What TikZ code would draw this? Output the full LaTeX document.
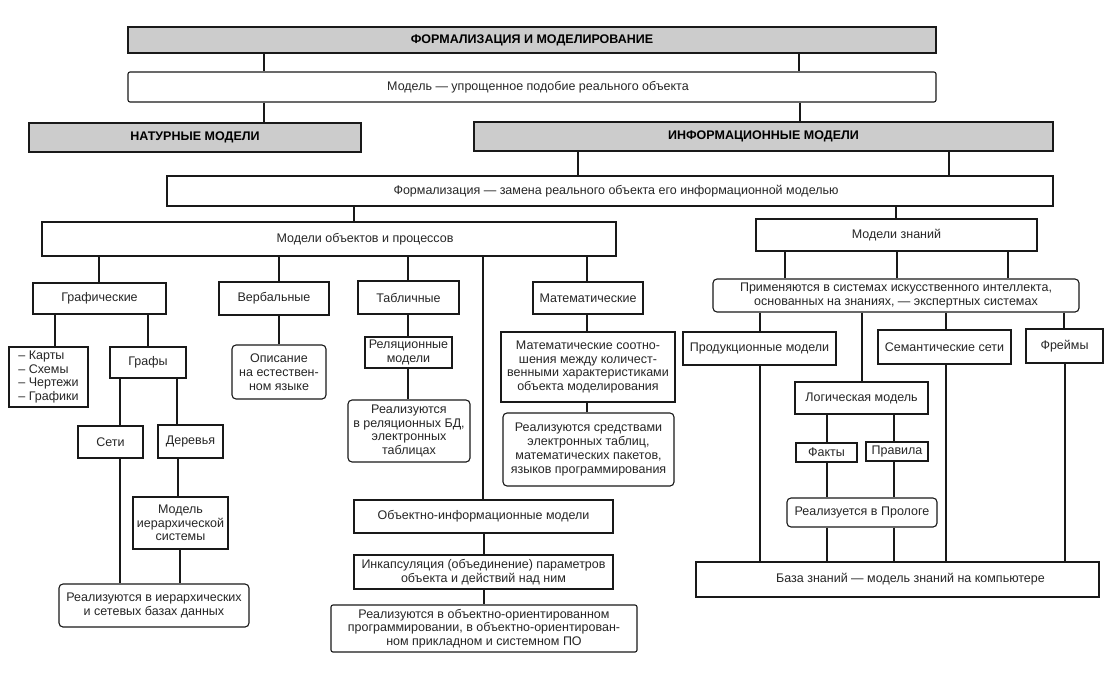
\documentclass[tikz,border=0pt]{standalone}
\usepackage{fontspec}
\setmainfont{Liberation Sans}
\newcommand\mkbox[7][]{%
  \pgfmathsetmacro\mkbw{#4-#3}\pgfmathsetmacro\mkbh{#6-#5}%
  \node[box,#1,minimum width=\mkbw pt,minimum height=\mkbh pt] (#2) at ({(#3+#4)/2},{(#5+#6)/2}) {#7};}
\newcommand\vlink[3]{\draw[conn] (#1.south -| x#3) -- (#2.north -| x#3);}
\begin{document}
\begin{tikzpicture}[x=1pt,y=-1pt,
  box/.style={draw=black!90, line width=1.1pt, fill=white, inner sep=1pt, align=center, text=black!85, font=\fontsize{12.5}{13.7}\selectfont},
  gbox/.style={fill=black!20, font=\bfseries\fontsize{12.5}{13.7}\selectfont, text=black},
  rbox/.style={rounded corners=4pt},
  sbox/.style={rounded corners=2pt},
  conn/.style={draw=black!90, line width=1.1pt}]
\fill[white] (0,0) rectangle (1119,683);
\useasboundingbox (0,0) rectangle (1119,683);
\foreach \xx in {55,99,120,148,177,178,180,264,279,354,408,483,484,578,587,760,785,799,800,827,862,894,896,897,946,949,1008,1064,1065}
  \coordinate (x\xx) at (\xx,0);
% top levels
\mkbox[gbox]{top}{128}{936}{27}{53}{ФОРМАЛИЗАЦИЯ И МОДЕЛИРОВАНИЕ}
\mkbox[sbox]{model}{128}{936}{72}{102}{\hspace*{12pt}Модель — упрощенное подобие реального объекта}
\mkbox[gbox]{natur}{29}{361}{123}{152}{НАТУРНЫЕ МОДЕЛИ}
\mkbox[gbox]{inform}{474}{1053}{122}{151}{ИНФОРМАЦИОННЫЕ МОДЕЛИ}
\mkbox{formal}{167}{1053}{176}{206}{\hspace*{12pt}Формализация — замена реального объекта его информационной моделью}
\mkbox{objproc}{42}{616}{222}{256}{\hspace*{72pt}Модели объектов и процессов}
\mkbox{knowl}{756}{1037}{219}{251}{Модели знаний}
% left branch
\mkbox{graph}{33}{166}{283}{314}{Графические}
\mkbox{verb}{219}{329}{282}{315}{Вербальные}
\mkbox{table}{358}{459}{281}{314}{Табличные}
\mkbox{math}{533}{643}{282}{314}{Математические}
\mkbox[align=left]{list}{9}{88}{347}{407}{– Карты\\– Схемы\\– Чертежи\\– Графики}
\mkbox{grafy}{110}{186}{347}{378}{Графы}
\mkbox{seti}{78}{143}{426}{458}{Сети}
\mkbox{derev}{158}{223}{425}{458}{Деревья}
\mkbox{hier}{133}{228}{497}{549}{Модель\\иерархической\\системы}
\mkbox[rbox]{realh}{59}{249}{584}{627}{Реализуются в иерархических\\и сетевых базах данных}
\mkbox[rbox]{opis}{232}{326}{345}{399}{Описание\\на естествен-\\ном языке}
\mkbox{relm}{365}{452}{337}{368}{Реляционные\\модели}
\mkbox[rbox]{realrel}{348}{470}{400}{462}{Реализуются\\в реляционных БД,\\электронных\\таблицах}
\mkbox{mathrel}{501}{675}{332}{402}{Математические соотно-\\шения между количест-\\венными характеристиками\\объекта моделирования}
\mkbox[rbox]{realmath}{503}{674}{413}{486}{Реализуются средствами\\электронных таблиц,\\математических пакетов,\\языков программирования}
\mkbox{oim}{354}{613}{500}{533}{Объектно-информационные модели}
\mkbox{incap}{354}{613}{555}{589}{Инкапсуляция (объединение) параметров\\объекта и действий над ним}
\mkbox[sbox]{realoop}{331}{637}{605}{652}{Реализуются в объектно-ориентированном\\программировании, в объектно-ориентирован-\\ном прикладном и системном ПО}
% right branch
\mkbox[rbox]{prim}{713}{1079}{279}{312}{Применяются в системах искусственного интеллекта,\\основанных на знаниях, — экспертных системах}
\mkbox{prod}{683}{836}{332}{365}{Продукционные модели}
\mkbox{sem}{878}{1011}{330}{364}{Семантические сети}
\mkbox{frames}{1026}{1103}{329}{363}{Фреймы}
\mkbox{logic}{795}{928}{382}{414}{Логическая модель}
\mkbox{facts}{796}{857}{443}{462}{Факты}
\mkbox{rules}{866}{928}{442}{461}{Правила}
\mkbox[rbox]{prolog}{787}{937}{498}{527}{Реализуется в Прологе}
\mkbox{base}{696}{1099}{562}{597}{\hspace*{26pt}База знаний — модель знаний на компьютере}
% connectors
\vlink{top}{model}{264}
\vlink{top}{model}{799}
\vlink{model}{natur}{264}
\vlink{model}{inform}{800}
\vlink{inform}{formal}{578}
\vlink{inform}{formal}{949}
\vlink{formal}{objproc}{354}
\vlink{formal}{knowl}{896}
\vlink{objproc}{graph}{99}
\vlink{objproc}{verb}{279}
\vlink{objproc}{table}{408}
\vlink{objproc}{oim}{483}
\vlink{objproc}{math}{587}
\vlink{graph}{list}{55}
\vlink{graph}{grafy}{148}
\vlink{grafy}{seti}{120}
\vlink{grafy}{derev}{177}
\vlink{seti}{realh}{120}
\vlink{derev}{hier}{178}
\vlink{hier}{realh}{180}
\vlink{verb}{opis}{279}
\vlink{table}{relm}{408}
\vlink{relm}{realrel}{408}
\vlink{math}{mathrel}{587}
\vlink{mathrel}{realmath}{587}
\vlink{oim}{incap}{484}
\vlink{incap}{realoop}{484}
\vlink{knowl}{prim}{785}
\vlink{knowl}{prim}{897}
\vlink{knowl}{prim}{1008}
\vlink{prim}{prod}{760}
\vlink{prim}{logic}{862}
\vlink{prim}{sem}{946}
\vlink{prim}{frames}{1064}
\vlink{logic}{facts}{827}
\vlink{logic}{rules}{894}
\vlink{facts}{prolog}{827}
\vlink{rules}{prolog}{894}
\vlink{prolog}{base}{827}
\vlink{prolog}{base}{894}
\vlink{prod}{base}{760}
\vlink{sem}{base}{946}
\vlink{frames}{base}{1065}
\end{tikzpicture}
\end{document}
